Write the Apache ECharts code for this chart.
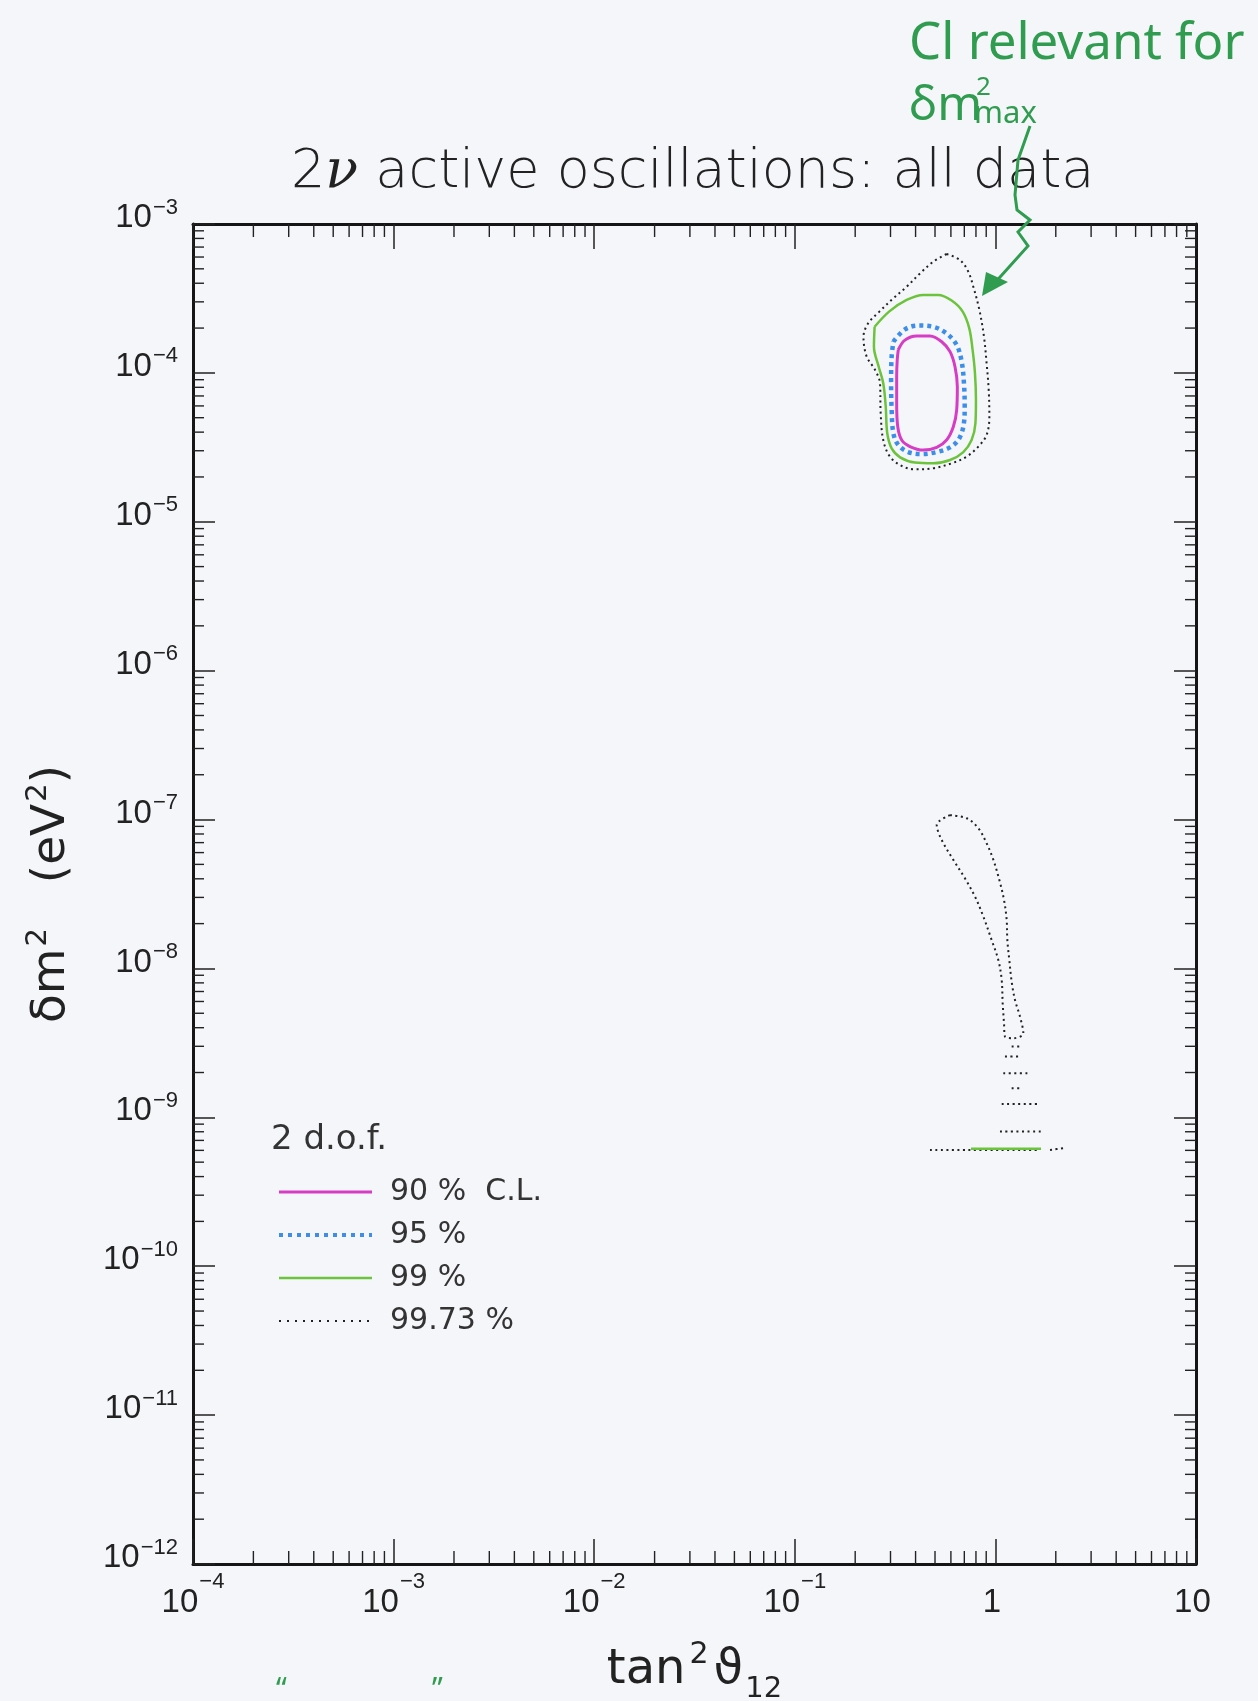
<!DOCTYPE html>
<html>
<head>
<meta charset="utf-8">
<script src="https://cdn.jsdelivr.net/npm/echarts/dist/echarts.min.js"></script>
<style>
  html, body { margin: 0; padding: 0; background: #f5f6fa; }
  #chart { width: 1258px; height: 1701px; }
</style>
</head>
<body>
<div id="chart"></div>
<script>
// ---------------- DATA ----------------
const X_MIN = 1e-4, X_MAX = 10;
const Y_MIN = 1e-12, Y_MAX = 1e-3;

const xTickLabels = ['10^−4', '10^−3', '10^−2', '10^−1', '1', '10'];
const xTickExps = [-4, -3, -2, -1, 0, 1];
const yTickLabels = ['10^−12', '10^−11', '10^−10', '10^−9', '10^−8', '10^−7', '10^−6', '10^−5', '10^−4', '10^−3'];
const yTickExps = [-12, -11, -10, -9, -8, -7, -6, -5, -4, -3];
const minorMultipliers = [2, 3, 4, 5, 6, 7, 8, 9];

const levelNames = ['90 %  C.L.', '95 %', '99 %', '99.73 %'];

// 90% C.L. (tan^2, dm^2)
const cl90 = [[0.328,1.43e-4],[0.354,1.66e-4],[0.405,1.77e-4],[0.472,1.77e-4],[0.540,1.62e-4],[0.594,1.39e-4],[0.629,1.10e-4],[0.646,8.08e-5],[0.641,5.63e-5],[0.617,4.35e-5],[0.571,3.54e-5],[0.510,3.16e-5],[0.437,3.03e-5],[0.375,3.20e-5],[0.341,3.54e-5],[0.326,4.35e-5],[0.322,6.25e-5],[0.322,9.43e-5],[0.324,1.22e-4],[0.328,1.43e-4]];

// 95%
const cl95 = [[0.310,1.62e-4],[0.354,1.96e-4],[0.413,2.08e-4],[0.490,2.04e-4],[0.571,1.84e-4],[0.641,1.54e-4],[0.679,1.19e-4],[0.697,8.51e-5],[0.703,5.93e-5],[0.692,4.35e-5],[0.653,3.54e-5],[0.594,3.16e-5],[0.510,2.94e-5],[0.429,2.85e-5],[0.368,2.94e-5],[0.328,3.28e-5],[0.310,3.93e-5],[0.304,5.63e-5],[0.302,8.96e-5],[0.304,1.29e-4],[0.310,1.62e-4]];

// 99%
const cl99 = [[0.250,2.04e-4],[0.295,2.58e-4],[0.361,3.09e-4],[0.437,3.34e-4],[0.519,3.34e-4],[0.605,3.06e-4],[0.687,2.58e-4],[0.741,1.99e-4],[0.770,1.42e-4],[0.791,9.93e-5],[0.800,6.58e-5],[0.795,4.58e-5],[0.761,3.54e-5],[0.692,2.94e-5],[0.594,2.60e-5],[0.490,2.47e-5],[0.397,2.50e-5],[0.335,2.71e-5],[0.304,3.11e-5],[0.289,3.93e-5],[0.284,5.93e-5],[0.276,8.51e-5],[0.262,1.10e-4],[0.248,1.50e-4],[0.250,2.04e-4]];
const cl99Low = [[0.756,6.15e-10],[1.688,6.15e-10]];

// 99.73%
const cl9973 = [[0.571,6.29e-4],[0.666,5.73e-4],[0.733,4.78e-4],[0.776,3.79e-4],[0.832,2.65e-4],[0.877,1.75e-4],[0.904,1.16e-4],[0.926,7.68e-5],[0.933,5.08e-5],[0.904,3.83e-5],[0.822,3.20e-5],[0.719,2.74e-5],[0.605,2.47e-5],[0.490,2.29e-5],[0.397,2.25e-5],[0.341,2.37e-5],[0.298,2.74e-5],[0.276,3.54e-5],[0.268,5.35e-5],[0.266,8.51e-5],[0.251,1.05e-4],[0.228,1.29e-4],[0.220,1.75e-4],[0.232,2.15e-4],[0.264,2.58e-4],[0.310,3.17e-4],[0.361,3.79e-4],[0.421,4.66e-4],[0.490,5.58e-4],[0.571,6.29e-4]];
const cl9973Low = [[0.594,1.07e-7],[0.510,9.20e-8],[0.540,7.29e-8],[0.617,5.36e-8],[0.705,4.03e-8],[0.791,3.04e-8],[0.871,2.23e-8],[0.958,1.55e-8],[1.034,1.14e-8],[1.075,8.37e-9],[1.087,5.83e-9],[1.104,4.28e-9],[1.116,3.49e-9],[1.228,3.40e-9],[1.378,3.67e-9],[1.326,4.75e-9],[1.252,6.14e-9],[1.205,8.16e-9],[1.173,1.14e-8],[1.147,1.55e-8],[1.138,2.12e-8],[1.104,2.88e-8],[1.046,3.93e-8],[0.977,5.36e-8],[0.904,6.93e-8],[0.822,8.74e-8],[0.719,1.02e-7],[0.594,1.07e-7]];
const cl9973Islands = [
  [[1.205,2.99e-9],[1.352,2.99e-9]],
  [[1.116,2.56e-9],[1.301,2.56e-9]],
  [[1.095,1.98e-9],[1.459,1.98e-9]],
  [[1.205,1.57e-9],[1.352,1.57e-9]],
  [[1.075,1.23e-9],[1.668,1.23e-9]],
  [[1.054,8.02e-10],[1.733,8.02e-10]],
  [[0.472,6.04e-10],[1.668,6.04e-10]],
  [[1.872,6.04e-10],[2.18,6.2e-10]]
];

// ---------------- STYLE ----------------
const FONT = '"DejaVu Sans", sans-serif';
const NUMFONT = '"Liberation Sans", Arial, sans-serif';
const INK = '#222';
const styles = [
  { color: '#d63cc4', width: 3, type: 'solid', legendType: 'solid', legendWidth: 3 },
  { color: '#3d8ee8', width: 4.5, type: [4, 4], legendType: [4, 5], legendWidth: 4 },
  { color: '#6cc33c', width: 2.5, type: 'solid', legendType: 'solid', legendWidth: 2.5 },
  { color: '#222222', width: 2, type: [2, 3.5], legendType: [2, 6], legendWidth: 2 }
];

const xMinorTicks = [];
xTickExps.slice(0, -1).forEach(e => minorMultipliers.forEach(k => xMinorTicks.push(k * Math.pow(10, e))));
const yMinorTicks = [];
yTickExps.slice(0, -1).forEach(e => minorMultipliers.forEach(k => yMinorTicks.push(k * Math.pow(10, e))));

function richLabel(str) {
  const parts = str.split('^');
  return '{b|' + parts[0] + '}{s|' + (parts[1] || ' ') + '}';
}
function labelFor(value, exps, labels) {
  const e = Math.round(Math.log10(value));
  const i = exps.indexOf(e);
  return i >= 0 ? richLabel(labels[i]) : '';
}

function contour(levelIdx, data, z) {
  const st = styles[levelIdx];
  return {
    type: 'line', name: levelNames[levelIdx], data: data,
    xAxisIndex: 0, yAxisIndex: 0,
    symbol: 'none', smooth: 0.35, silent: true, z: z || 3,
    lineStyle: { color: st.color, width: st.width, type: st.type, cap: 'butt' },
    itemStyle: { color: st.color }
  };
}

const series = [
  contour(0, cl90, 6),
  contour(1, cl95, 5),
  contour(2, cl99, 4),
  contour(2, cl99Low, 5),
  contour(3, cl9973, 3),
  contour(3, cl9973Low, 3)
].concat(cl9973Islands.map(seg => contour(3, seg, 3)));

// minor ticks, drawn through the axes' scales
series.push({
  type: 'custom', coordinateSystem: 'cartesian2d', silent: true, clip: false, z: 10,
  data: xMinorTicks.map(v => [v, Y_MIN]), encode: { x: 0, y: 1 },
  renderItem: function (params, api) {
    const v = api.value(0);
    const pb = api.coord([v, Y_MIN]);
    const pt = api.coord([v, Y_MAX]);
    return { type: 'group', children: [
      { type: 'line', shape: { x1: pb[0], y1: pb[1], x2: pb[0], y2: pb[1] - 13 }, style: { stroke: INK, lineWidth: 1.4 } },
      { type: 'line', shape: { x1: pt[0], y1: pt[1], x2: pt[0], y2: pt[1] + 13 }, style: { stroke: INK, lineWidth: 1.4 } }
    ]};
  }
});
series.push({
  type: 'custom', coordinateSystem: 'cartesian2d', silent: true, clip: false, z: 10,
  data: yMinorTicks.map(v => [X_MIN, v]), encode: { x: 0, y: 1 },
  renderItem: function (params, api) {
    const v = api.value(1);
    const pl = api.coord([X_MIN, v]);
    const pr = api.coord([X_MAX, v]);
    return { type: 'group', children: [
      { type: 'line', shape: { x1: pl[0], y1: pl[1], x2: pl[0] + 11, y2: pl[1] }, style: { stroke: INK, lineWidth: 1.4 } },
      { type: 'line', shape: { x1: pr[0], y1: pr[1], x2: pr[0] - 11, y2: pr[1] }, style: { stroke: INK, lineWidth: 1.4 } }
    ]};
  }
});

const axisLine = { show: true, onZero: false, lineStyle: { color: '#151515', width: 3 } };
const GREEN = '#2f9c4f';
const HAND = '"Noto Sans", sans-serif';

const option = {
  backgroundColor: '#f5f6fa',
  animation: false,
  textStyle: { fontFamily: FONT },
  title: {
    text: '{n|2}{i|ν}{n| active oscillations: all data}',
    left: 286, top: 141,
    textStyle: {
      rich: {
        n: { fontSize: 54, fontFamily: FONT, fontWeight: 300, color: INK },
        i: { fontSize: 54, fontFamily: '"DejaVu Serif", serif', fontStyle: 'italic', fontWeight: 'normal', color: INK }
      }
    }
  },
  grid: { left: 193, top: 224, width: 1003, height: 1340, containLabel: false, outerBoundsMode: 'none' },
  legend: {
    data: levelNames.map((n, i) => ({
      name: n,
      itemStyle: { opacity: 0 },
      lineStyle: { color: styles[i].color, width: styles[i].legendWidth, type: styles[i].legendType, opacity: 1 }
    })),
    orient: 'vertical', left: 277, top: 1177, padding: 0,
    itemWidth: 93, itemHeight: 14, itemGap: 13,
    selectedMode: false,
    textStyle: { fontSize: 30, color: '#333', fontFamily: FONT, lineHeight: 30, padding: [0, 0, 0, 13] }
  },
  xAxis: [
    {
      type: 'log', logBase: 10, min: X_MIN, max: X_MAX, splitNumber: 5, position: 'bottom',
      axisLine: axisLine,
      axisTick: { show: true, inside: true, length: 25, lineStyle: { color: INK, width: 1.5 } },
      splitLine: { show: false },
      axisLabel: {
        margin: 22, color: INK,
        formatter: v => labelFor(v, xTickExps, xTickLabels),
        rich: {
          b: { fontSize: 33, fontFamily: NUMFONT, color: INK, lineHeight: 33, verticalAlign: 'bottom' },
          s: { fontSize: 22, fontFamily: NUMFONT, color: INK, lineHeight: 22, padding: [0, 0, 26, 1], verticalAlign: 'bottom' }
        }
      },
      name: '{t|tan}{p|2}{g|ϑ}{d|12}',
      nameLocation: 'middle', nameGap: 92,
      nameTextStyle: {
        rich: {
          t: { fontSize: 48, fontFamily: FONT, color: INK, lineHeight: 48, padding: [0, 0, 9, 0], verticalAlign: 'bottom' },
          p: { fontSize: 30, fontFamily: FONT, color: INK, lineHeight: 30, padding: [0, 5, 34, 4], verticalAlign: 'bottom' },
          g: { fontSize: 48, fontFamily: FONT, color: INK, lineHeight: 48, padding: [0, 0, 9, 0], verticalAlign: 'bottom' },
          d: { fontSize: 29, fontFamily: FONT, color: INK, lineHeight: 29, padding: [0, 0, 0, 2], verticalAlign: 'bottom' }
        }
      }
    },
    {
      type: 'log', logBase: 10, min: X_MIN, max: X_MAX, splitNumber: 5, position: 'top',
      axisLine: axisLine,
      axisTick: { show: true, inside: true, length: 25, lineStyle: { color: INK, width: 1.5 } },
      axisLabel: { show: false }, splitLine: { show: false }
    }
  ],
  yAxis: [
    {
      type: 'log', logBase: 10, min: Y_MIN, max: Y_MAX, splitNumber: 9, position: 'left',
      axisLine: axisLine,
      axisTick: { show: true, inside: true, length: 22, lineStyle: { color: INK, width: 1.5 } },
      splitLine: { show: false },
      axisLabel: {
        margin: 15, color: INK,
        formatter: v => labelFor(v, yTickExps, yTickLabels),
        rich: {
          b: { fontSize: 33, fontFamily: NUMFONT, color: INK, lineHeight: 33, padding: [0, 0, 6, 0], verticalAlign: 'bottom' },
          s: { fontSize: 22, fontFamily: NUMFONT, color: INK, lineHeight: 22, padding: [0, 0, 22, 1], verticalAlign: 'bottom' }
        }
      },
      name: '{a|δm}{s|2}{a|   (eV}{s|2}{a|)}',
      nameLocation: 'middle', nameGap: 118, nameRotate: 90,
      nameTextStyle: {
        rich: {
          a: { fontSize: 47, fontFamily: FONT, color: INK, lineHeight: 47, verticalAlign: 'bottom' },
          s: { fontSize: 29, fontFamily: FONT, color: INK, lineHeight: 29, padding: [0, 0, 22, 2], verticalAlign: 'bottom' }
        }
      }
    },
    {
      type: 'log', logBase: 10, min: Y_MIN, max: Y_MAX, splitNumber: 9, position: 'right',
      axisLine: axisLine,
      axisTick: { show: true, inside: true, length: 22, lineStyle: { color: INK, width: 1.5 } },
      axisLabel: { show: false }, splitLine: { show: false }
    }
  ],
  graphic: [
    { type: 'text', x: 271, y: 1140, z: 20,
      style: { text: '2 d.o.f.', fontSize: 34, fontFamily: FONT, fill: '#333', verticalAlign: 'middle' } },
    // handwritten annotation
    { type: 'text', x: 909, y: 44, z: 20,
      style: { text: 'Cl relevant for', fontSize: 51, fontFamily: HAND, fill: GREEN, verticalAlign: 'middle' } },
    { type: 'text', x: 909, y: 106, z: 20,
      style: { text: 'δm', fontSize: 48, fontFamily: HAND, fill: GREEN, verticalAlign: 'middle' } },
    { type: 'text', x: 976, y: 88, z: 20,
      style: { text: '2', fontSize: 26, fontFamily: HAND, fill: GREEN, verticalAlign: 'middle' } },
    { type: 'text', x: 974, y: 114, z: 20,
      style: { text: 'max', fontSize: 31, fontFamily: HAND, fill: GREEN, verticalAlign: 'middle' } },
    { type: 'polyline', z: 20,
      shape: { points: [[1030, 126], [1018, 160], [1015, 195], [1017, 210], [1030, 220], [1018, 232], [1028, 246], [992, 286]] },
      style: { stroke: GREEN, lineWidth: 3, fill: null } },
    { type: 'polygon', z: 20,
      shape: { points: [[982, 296], [986, 272], [1008, 282]] },
      style: { fill: GREEN } },
    { type: 'text', x: 276, y: 1690, z: 20,
      style: { text: '“', fontSize: 30, fontFamily: HAND, fill: GREEN, verticalAlign: 'middle' } },
    { type: 'text', x: 432, y: 1690, z: 20,
      style: { text: '”', fontSize: 30, fontFamily: HAND, fill: GREEN, verticalAlign: 'middle' } }
  ],
  series: series
};

const chart = echarts.init(document.getElementById('chart'), null, { renderer: 'canvas' });
chart.setOption(option);
</script>
</body>
</html>
